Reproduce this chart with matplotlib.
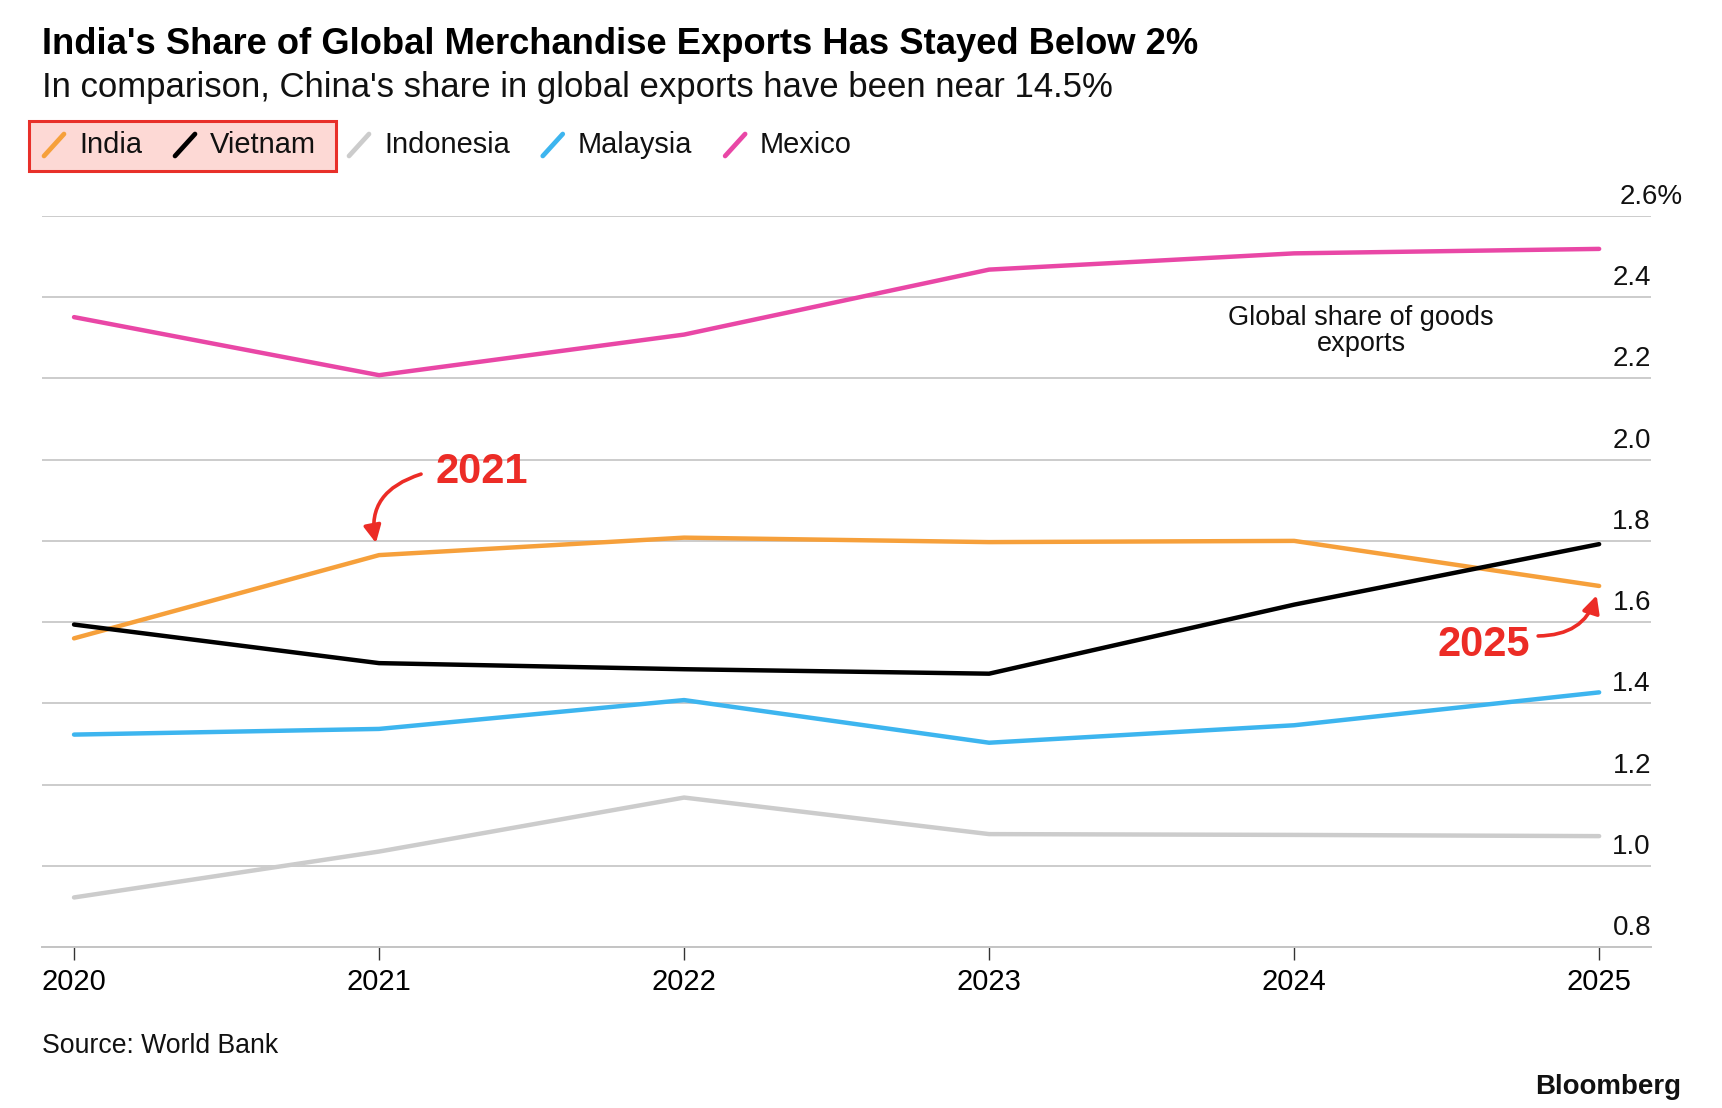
import matplotlib
matplotlib.use('Agg')
import matplotlib.pyplot as plt
import matplotlib.transforms as mtransforms
from matplotlib.lines import Line2D
from matplotlib.patches import Rectangle

plt.rcParams['font.family'] = ['Liberation Sans', 'DejaVu Sans']

# values (share of global goods exports, %)
years = [2020, 2021, 2022, 2023, 2024, 2025]
india = [1.56, 1.765, 1.808, 1.797, 1.80, 1.689]
vietnam = [1.594, 1.499, 1.484, 1.473, 1.643, 1.792]
indonesia = [0.922, 1.035, 1.168, 1.078, 1.076, 1.073]
malaysia = [1.323, 1.337, 1.408, 1.303, 1.346, 1.427]
mexico = [2.351, 2.208, 2.308, 2.468, 2.508, 2.519]

series_names = ['India', 'Vietnam', 'Indonesia', 'Malaysia', 'Mexico']
series_values = [india, vietnam, indonesia, malaysia, mexico]
series_colors = ['#f6a03b', '#000000', '#cccccc', '#3db5ef', '#e947a6']
draw_order = [2, 3, 4, 0, 1]

y_ticks = [0.8, 1.0, 1.2, 1.4, 1.6, 1.8, 2.0, 2.2, 2.4]
y_tick_labels = ['0.8', '1.0', '1.2', '1.4', '1.6', '1.8', '2.0', '2.2', '2.4']
y_top = 2.6
y_top_label = '2.6%'

W, H = 1722, 1108
fig = plt.figure(figsize=(W / 100, H / 100), dpi=100)
fig.patch.set_facecolor('white')

# axes placed in pixel terms
ax_left, ax_right, ax_top, ax_bottom = 42, 1651, 216, 947
ax = fig.add_axes([ax_left / W, (H - ax_bottom) / H,
                   (ax_right - ax_left) / W, (ax_bottom - ax_top) / H])

for i in draw_order:
    ax.plot(years, series_values[i], color=series_colors[i], lw=3.2,
            solid_capstyle='round', zorder=3)

ax.set_xlim(2019.895, 2025.170)
ax.set_ylim(0.8, y_top)
ax.set_yticks(y_ticks + [y_top])
ax.grid(axis='y', color='#cccccc', lw=1.4, zorder=0)
ax.tick_params(axis='y', left=False, labelleft=False)
ax.set_xticks(years)
ax.set_xticklabels([str(y) for y in years], fontsize=21)
ax.tick_params(axis='x', length=9, width=1, color='#333333', pad=6)

for side in ['top', 'left', 'right']:
    ax.spines[side].set_visible(False)
ax.spines['bottom'].set_color('#c4c4c4')
ax.spines['bottom'].set_linewidth(1.4)

# y labels sit above their gridlines at the right edge
trans = mtransforms.blended_transform_factory(ax.transAxes, ax.transData)
lab_trans = mtransforms.offset_copy(trans, fig=fig, x=0, y=12, units='dots')
for v, lab in zip(y_ticks, y_tick_labels):
    ax.text(1.0, v, lab, transform=lab_trans, ha='right', va='baseline',
            fontsize=20, color='#111111', clip_on=False)
top_trans = mtransforms.offset_copy(trans, fig=fig, x=32, y=12, units='dots')
ax.text(1.0, y_top, y_top_label, transform=top_trans, ha='right', va='baseline',
        fontsize=20, color='#111111', clip_on=False)

ax.text(2024.22, 2.318, 'Global share of goods\nexports', ha='center', va='center',
        fontsize=19.5, color='#111111', linespacing=1.0)

# red callouts
red = '#ec2c26'
ax.annotate('2021', xy=(years[1], india[1]), xytext=(56, 83),
            textcoords='offset pixels', ha='left', va='center',
            fontsize=30, fontweight='bold', color=red)
ax.annotate('', xy=(years[1], india[1]), xytext=(42, 81),
            textcoords='offset pixels',
            arrowprops=dict(arrowstyle='-|>', color=red, lw=2.6,
                            mutation_scale=26, shrinkA=0, shrinkB=9,
                            connectionstyle='arc3,rad=0.5'))
ax.annotate('2025', xy=(years[5], india[5]), xytext=(-69, -59),
            textcoords='offset pixels', ha='right', va='center',
            fontsize=30, fontweight='bold', color=red)
ax.annotate('', xy=(years[5], india[5]), xytext=(-61, -50),
            textcoords='offset pixels',
            arrowprops=dict(arrowstyle='-|>', color=red, lw=2.6,
                            mutation_scale=26, shrinkA=0, shrinkB=7,
                            connectionstyle='arc3,rad=0.4'))

# titles
fig.text(42 / W, 1 - 44 / H, "India's Share of Global Merchandise Exports Has Stayed Below 2%",
         fontsize=26.2, fontweight='bold', va='center', ha='left', color='#000000')
fig.text(42 / W, 1 - 87 / H, "In comparison, China's share in global exports have been near 14.5%",
         fontsize=25, va='center', ha='left', color='#111111')

# legend drawn by hand: slash + label, highlighted box around India/Vietnam
renderer = fig.canvas.get_renderer()
leg_y = 145
x = 44
label_ends = []
for name, col in zip(series_names, series_colors):
    fig.add_artist(Line2D([x / W, (x + 20) / W], [1 - 156 / H, 1 - 134 / H],
                          color=col, lw=3.4, solid_capstyle='round',
                          transform=fig.transFigure, zorder=5))
    t = fig.text((x + 35) / W, 1 - leg_y / H, name, fontsize=20.9, va='center',
                 ha='left', color='#111111', zorder=5)
    bb = t.get_window_extent(renderer)
    label_ends.append(bb.x1)
    x = bb.x1 + 33

box_left, box_right = 29, label_ends[1] + 20
fig.add_artist(Rectangle((box_left / W, 1 - 171 / H), (box_right - box_left) / W, 50 / H,
                         transform=fig.transFigure, facecolor='#fdd9d5',
                         edgecolor='#e8302a', lw=2.2, zorder=2))

fig.text(42 / W, 1 - 1046 / H, 'Source: World Bank', fontsize=19.2, va='center',
         ha='left', color='#111111')
fig.text(1681 / W, 1 - 1087 / H, 'Bloomberg', fontsize=19.9, fontweight='bold',
         va='center', ha='right', color='#111111')

fig.savefig('out.png', dpi=100, facecolor='white')
